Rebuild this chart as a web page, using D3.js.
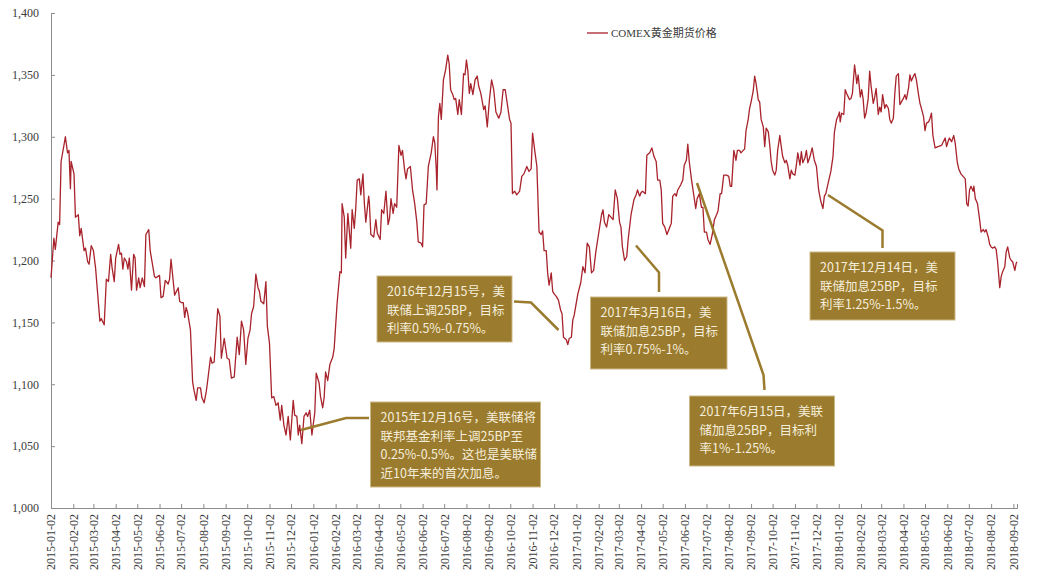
<!DOCTYPE html>
<html>
<head>
<meta charset="utf-8">
<script src="https://cdn.jsdelivr.net/npm/d3@7"></script>
<style>
  html, body { margin: 0; padding: 0; background: #fff; }
  svg { display: block; }
</style>
</head>
<body>
<svg id="chart" width="1038" height="576"></svg>
<script>
// COMEX gold futures price, USD/oz
const tradeDates = [
  "2015-01-02","2015-01-06","2015-01-08","2015-01-12","2015-01-14","2015-01-16","2015-01-20","2015-01-22","2015-01-25","2015-01-27",
  "2015-01-29","2015-01-30","2015-02-03","2015-02-05","2015-02-09","2015-02-11","2015-02-13","2015-02-17","2015-02-19","2015-02-22",
  "2015-02-24","2015-02-27","2015-03-02","2015-03-05","2015-03-11","2015-03-13","2015-03-17","2015-03-20","2015-03-23","2015-03-26",
  "2015-03-28","2015-03-31","2015-04-02","2015-04-06","2015-04-08","2015-04-10","2015-04-12","2015-04-14","2015-04-17","2015-04-19",
  "2015-04-21","2015-04-24","2015-04-27","2015-04-29","2015-05-01","2015-05-04","2015-05-06","2015-05-09","2015-05-12","2015-05-14",
  "2015-05-18","2015-05-20","2015-05-26","2015-05-28","2015-06-02","2015-06-04","2015-06-07","2015-06-10","2015-06-14","2015-06-16",
  "2015-06-18","2015-06-23","2015-06-28","2015-06-30","2015-07-02","2015-07-05","2015-07-07","2015-07-09","2015-07-11","2015-07-15",
  "2015-07-18","2015-07-20","2015-07-23","2015-07-25","2015-07-29","2015-07-31","2015-08-03","2015-08-06","2015-08-08","2015-08-12",
  "2015-08-14","2015-08-17","2015-08-22","2015-08-25","2015-08-27","2015-08-30","2015-08-31","2015-09-04","2015-09-07","2015-09-10",
  "2015-09-14","2015-09-18","2015-09-21","2015-09-24","2015-09-27","2015-09-30","2015-10-03","2015-10-06","2015-10-08","2015-10-11",
  "2015-10-14","2015-10-17","2015-10-19","2015-10-21","2015-10-25","2015-10-28","2015-10-30","2015-11-02","2015-11-05","2015-11-08",
  "2015-11-11","2015-11-14","2015-11-17","2015-11-19","2015-11-22","2015-11-25","2015-11-28","2015-12-01","2015-12-05","2015-12-07",
  "2015-12-10","2015-12-12","2015-12-14","2015-12-17","2015-12-20","2015-12-23","2015-12-25","2015-12-28","2015-12-31",
  "2016-01-04","2016-01-06","2016-01-10","2016-01-12","2016-01-15","2016-01-17","2016-01-19","2016-01-22","2016-01-25","2016-01-29",
  "2016-01-31","2016-02-04","2016-02-08","2016-02-10","2016-02-11","2016-02-14","2016-02-16","2016-02-19","2016-02-23","2016-02-25",
  "2016-02-28","2016-03-01","2016-03-03","2016-03-06","2016-03-08","2016-03-11","2016-03-13","2016-03-15","2016-03-19","2016-03-20",
  "2016-03-22","2016-03-26","2016-03-29","2016-03-31","2016-04-04","2016-04-06","2016-04-09","2016-04-12","2016-04-15","2016-04-17",
  "2016-04-19","2016-04-22","2016-04-24","2016-04-27","2016-04-30","2016-05-03","2016-05-05","2016-05-08","2016-05-10","2016-05-12",
  "2016-05-16","2016-05-19","2016-05-22","2016-05-25","2016-05-27","2016-05-31","2016-06-02","2016-06-04","2016-06-07","2016-06-10",
  "2016-06-14","2016-06-17","2016-06-19","2016-06-21","2016-06-22","2016-06-24","2016-06-26","2016-06-28","2016-07-01","2016-07-04",
  "2016-07-07","2016-07-09","2016-07-11","2016-07-14","2016-07-16","2016-07-18","2016-07-21","2016-07-23","2016-07-26","2016-07-29",
  "2016-07-31","2016-08-02","2016-08-04","2016-08-06","2016-08-08","2016-08-11","2016-08-14","2016-08-17","2016-08-19","2016-08-22",
  "2016-08-26","2016-08-28","2016-08-31","2016-09-03","2016-09-06","2016-09-09","2016-09-12","2016-09-16","2016-09-19","2016-09-22",
  "2016-09-25","2016-09-28","2016-10-01","2016-10-03","2016-10-05","2016-10-08","2016-10-11","2016-10-15","2016-10-18","2016-10-21",
  "2016-10-25","2016-10-28","2016-10-31","2016-11-02","2016-11-05","2016-11-08","2016-11-11","2016-11-14","2016-11-16","2016-11-18",
  "2016-11-21","2016-11-23","2016-11-25","2016-11-28","2016-11-30","2016-12-02","2016-12-05","2016-12-08","2016-12-11","2016-12-13",
  "2016-12-15","2016-12-19","2016-12-21","2016-12-23","2016-12-26","2016-12-28","2016-12-30",
  "2017-01-04","2017-01-08","2017-01-11","2017-01-14","2017-01-17","2017-01-20","2017-01-23","2017-01-26","2017-01-29","2017-02-02",
  "2017-02-06","2017-02-08","2017-02-10","2017-02-13","2017-02-16","2017-02-19","2017-02-22","2017-02-25","2017-02-28","2017-03-03",
  "2017-03-05","2017-03-07","2017-03-10","2017-03-13","2017-03-15","2017-03-19","2017-03-23","2017-03-26","2017-03-28","2017-03-31",
  "2017-04-02","2017-04-04","2017-04-08","2017-04-10","2017-04-14","2017-04-17","2017-04-20","2017-04-23","2017-04-25","2017-04-28",
  "2017-04-30","2017-05-02","2017-05-05","2017-05-08","2017-05-12","2017-05-14","2017-05-16","2017-05-19","2017-05-21","2017-05-23",
  "2017-05-27","2017-05-30","2017-06-01","2017-06-04","2017-06-06","2017-06-08","2017-06-11","2017-06-14","2017-06-17","2017-06-19",
  "2017-06-22","2017-06-25","2017-06-27","2017-06-29","2017-07-02","2017-07-04","2017-07-07","2017-07-10","2017-07-13","2017-07-16",
  "2017-07-18","2017-07-21","2017-07-23","2017-07-26","2017-07-30","2017-08-02","2017-08-04","2017-08-06","2017-08-09","2017-08-12",
  "2017-08-14","2017-08-17","2017-08-19","2017-08-22","2017-08-24","2017-08-26","2017-08-29","2017-08-31","2017-09-02","2017-09-05",
  "2017-09-07","2017-09-09","2017-09-12","2017-09-14","2017-09-16","2017-09-19","2017-09-21","2017-09-23","2017-09-26","2017-09-28",
  "2017-09-30","2017-10-02","2017-10-05","2017-10-07","2017-10-09","2017-10-12","2017-10-14","2017-10-16","2017-10-19","2017-10-21",
  "2017-10-23","2017-10-26","2017-10-28","2017-10-30","2017-11-02","2017-11-04","2017-11-06","2017-11-09","2017-11-11","2017-11-13",
  "2017-11-16","2017-11-18","2017-11-20","2017-11-23","2017-11-26","2017-11-29","2017-12-02","2017-12-05","2017-12-08","2017-12-11",
  "2017-12-13","2017-12-15","2017-12-18","2017-12-22","2017-12-25","2017-12-27","2017-12-30",
  "2018-01-02","2018-01-03","2018-01-04","2018-01-06","2018-01-09","2018-01-11","2018-01-13","2018-01-17","2018-01-19","2018-01-21",
  "2018-01-24","2018-01-26","2018-01-27","2018-01-29","2018-02-01","2018-02-03","2018-02-05","2018-02-07","2018-02-09","2018-02-12",
  "2018-02-14","2018-02-16","2018-02-19","2018-02-21","2018-02-23","2018-02-26","2018-02-28","2018-03-02","2018-03-04","2018-03-07",
  "2018-03-09","2018-03-12","2018-03-14","2018-03-16","2018-03-19","2018-03-21","2018-03-23","2018-03-26","2018-03-28","2018-03-30",
  "2018-04-02","2018-04-04","2018-04-06","2018-04-09","2018-04-11","2018-04-13","2018-04-16","2018-04-18","2018-04-20","2018-04-23",
  "2018-04-25","2018-04-27","2018-04-30","2018-05-02","2018-05-04","2018-05-07","2018-05-09","2018-05-11","2018-05-13","2018-05-16",
  "2018-05-20","2018-05-25","2018-05-30","2018-06-01","2018-06-03","2018-06-05","2018-06-08","2018-06-11","2018-06-13","2018-06-16",
  "2018-06-18","2018-06-21","2018-06-24","2018-06-27","2018-06-28","2018-06-29","2018-07-01","2018-07-03","2018-07-05","2018-07-08",
  "2018-07-09","2018-07-11","2018-07-14","2018-07-17","2018-07-19","2018-07-22","2018-07-24","2018-07-26","2018-07-29","2018-07-31",
  "2018-08-02","2018-08-04","2018-08-07","2018-08-09","2018-08-11","2018-08-14","2018-08-16","2018-08-18","2018-08-21","2018-08-23",
  "2018-08-25","2018-08-28","2018-08-30","2018-09-01","2018-09-04","2018-09-06","2018-09-07"
];

const goldPrice = [
  1186,1218,1209,1231,1229,1280,1293,1300,1287,1289,
  1258,1280,1270,1235,1237,1220,1226,1208,1210,1199,
  1197,1212,1208,1194,1151,1153,1148,1185,1183,1205,
  1194,1183,1202,1213,1205,1206,1193,1202,1199,1193,
  1202,1176,1205,1202,1176,1186,1178,1186,1179,1221,
  1225,1208,1187,1186,1188,1170,1171,1184,1181,1185,
  1201,1172,1178,1167,1166,1166,1154,1162,1158,1144,
  1102,1095,1087,1097,1097,1089,1085,1094,1103,1122,
  1117,1118,1161,1155,1121,1133,1137,1121,1120,1105,
  1106,1138,1124,1151,1144,1116,1137,1144,1157,1163,
  1189,1178,1175,1167,1165,1183,1147,1133,1089,1090,
  1083,1085,1071,1083,1067,1059,1074,1055,1087,1075,
  1074,1059,1067,1052,1074,1077,1074,1079,1059,
  1077,1109,1101,1090,1081,1089,1110,1103,1116,1122,
  1129,1165,1191,1190,1246,1235,1202,1238,1210,1241,
  1226,1242,1265,1266,1253,1270,1246,1231,1252,1246,
  1221,1219,1233,1222,1217,1241,1238,1256,1229,1234,
  1250,1238,1246,1243,1293,1285,1289,1273,1266,1274,
  1276,1257,1246,1231,1215,1214,1211,1245,1246,1276,
  1287,1300,1295,1274,1257,1316,1327,1314,1346,1354,
  1366,1359,1338,1334,1330,1331,1318,1330,1318,1351,
  1350,1362,1353,1335,1343,1334,1346,1349,1341,1335,
  1322,1325,1308,1330,1346,1338,1320,1315,1320,1338,
  1338,1326,1314,1311,1254,1256,1253,1256,1268,1270,
  1276,1272,1274,1303,1289,1276,1223,1221,1224,1208,
  1208,1190,1180,1190,1175,1173,1171,1168,1160,1157,
  1138,1136,1132,1137,1138,1152,1156,
  1173,1182,1195,1190,1214,1211,1190,1192,1207,1222,
  1237,1241,1231,1227,1237,1235,1233,1257,1250,1231,
  1227,1211,1200,1203,1217,1237,1249,1253,1257,1252,
  1255,1256,1254,1285,1287,1291,1284,1280,1265,1265,
  1257,1230,1227,1221,1227,1230,1252,1254,1252,1257,
  1261,1265,1277,1281,1294,1280,1266,1254,1242,1250,
  1254,1243,1243,1223,1223,1217,1213,1221,1233,1237,
  1240,1254,1254,1269,1269,1268,1260,1260,1289,1281,
  1289,1289,1287,1289,1290,1305,1314,1323,1328,1337,
  1349,1343,1330,1328,1314,1308,1292,1307,1304,1293,
  1280,1273,1269,1273,1289,1301,1292,1284,1279,1281,
  1277,1266,1273,1270,1269,1277,1287,1277,1288,1279,
  1283,1289,1279,1284,1291,1281,1276,1257,1248,1242,
  1252,1254,1262,1272,1284,1304,1314,
  1318,1320,1312,1319,1318,1338,1335,1330,1331,1335,
  1358,1349,1343,1350,1332,1338,1330,1315,1319,1331,
  1353,1341,1327,1332,1339,1318,1324,1320,1334,1323,
  1326,1323,1314,1311,1315,1335,1349,1351,1326,1328,
  1331,1334,1330,1339,1350,1345,1349,1351,1346,1334,
  1327,1323,1316,1305,1311,1312,1315,1319,1301,1291,
  1292,1293,1299,1292,1296,1299,1296,1301,1295,1279,
  1274,1270,1268,1266,1257,1246,1244,1257,1260,1256,
  1260,1250,1246,1233,1223,1225,1223,1225,1219,1213,
  1211,1210,1211,1209,1199,1178,1187,1191,1195,1207,
  1211,1202,1200,1199,1192,1198,1199
];

const seriesName = "COMEX黄金期货价格";
const yTicks = [1000, 1050, 1100, 1150, 1200, 1250, 1300, 1350, 1400];
const xTickLabels = [
  "2015-01-02","2015-02-02","2015-03-02","2015-04-02","2015-05-02","2015-06-02","2015-07-02","2015-08-02","2015-09-02","2015-10-02","2015-11-02","2015-12-02",
  "2016-01-02","2016-02-02","2016-03-02","2016-04-02","2016-05-02","2016-06-02","2016-07-02","2016-08-02","2016-09-02","2016-10-02","2016-11-02","2016-12-02",
  "2017-01-02","2017-02-02","2017-03-02","2017-04-02","2017-05-02","2017-06-02","2017-07-02","2017-08-02","2017-09-02","2017-10-02","2017-11-02","2017-12-02",
  "2018-01-02","2018-02-02","2018-03-02","2018-04-02","2018-05-02","2018-06-02","2018-07-02","2018-08-02","2018-09-02"
];
const axisStart = "2015-01-02";
const axisEnd = "2018-09-07";

// Fed rate-hike call-outs: text lines, box and leader polyline (pixel layout)
const noteLines = [
  ["2015年12月16号，美联储将", "联邦基金利率上调25BP至", "0.25%-0.5%。这也是美联储", "近10年来的首次加息。"],
  ["2016年12月15号，美", "联储上调25BP，目标", "利率0.5%-0.75%。"],
  ["2017年3月16日，美", "联储加息25BP，目标", "利率0.75%-1%。"],
  ["2017年6月15日，美联", "储加息25BP，目标利", "率1%-1.25%。"],
  ["2017年12月14日，美", "联储加息25BP，目标", "利率1.25%-1.5%。"]
];
const noteBoxes = [
  [370.5, 402, 170, 85],
  [377, 276, 135, 66],
  [590.5, 297, 136.5, 72],
  [689.5, 396, 145, 70],
  [810, 252, 145, 68]
];
const noteLeaders = [
  [[301, 430], [346, 418], [369, 418]],
  [[514, 301.5], [531, 302.5], [558.5, 330]],
  [[636, 245.5], [659, 272.5], [659, 292]],
  [[697, 183], [763.5, 375], [764.5, 390]],
  [[828, 195], [882.5, 230.5], [882.5, 248]]
];

const parse = d3.timeParse("%Y-%m-%d");
const data = tradeDates.map((d, i) => ({ date: parse(d), value: goldPrice[i] }));

const plot = { left: 51, right: 1017, top: 13, bottom: 508 };
const serif = "'Liberation Serif', 'Times New Roman', serif";
const cjkSans = "'Noto Sans CJK SC', 'Microsoft YaHei', sans-serif";

const svg = d3.select("#chart");

const x = d3.scaleTime()
  .domain([parse(axisStart), parse(axisEnd)])
  .range([plot.left, plot.right]);

const y = d3.scaleLinear()
  .domain([1000, 1400])
  .range([plot.bottom, plot.top]);

const axisColor = "#8c8c8c";
const labelColor = "#3a3a3a";

// Y axis: ticks point into the plot
const yAxis = svg.append("g")
  .attr("transform", `translate(${plot.left},0)`)
  .call(d3.axisLeft(y).tickValues(yTicks).tickSize(-4).tickPadding(12)
    .tickFormat(d3.format(",")));
yAxis.select(".domain").attr("stroke", axisColor);
yAxis.selectAll(".tick line").attr("stroke", axisColor);
yAxis.selectAll(".tick text")
  .attr("fill", labelColor)
  .style("font-family", serif)
  .style("font-size", "12px");

// X axis: monthly ticks, rotated labels
const xAxis = svg.append("g")
  .attr("transform", `translate(0,${plot.bottom})`)
  .call(d3.axisBottom(x).tickValues(xTickLabels.map(parse)).tickSize(-4)
    .tickFormat(d3.timeFormat("%Y-%m-%d")));
xAxis.select(".domain").attr("stroke", axisColor);
xAxis.selectAll(".tick line").attr("stroke", axisColor);
xAxis.selectAll(".tick text")
  .attr("fill", labelColor)
  .style("font-family", serif)
  .style("font-size", "12px")
  .attr("text-anchor", "end")
  .attr("dy", "0.32em")
  .attr("transform", "translate(0,6) rotate(-90)")
  .attr("x", 0)
  .attr("y", 0);

// Price line
const line = d3.line()
  .x(d => x(d.date))
  .y(d => y(d.value));

svg.append("path")
  .datum(data)
  .attr("fill", "none")
  .attr("stroke", "#a8232b")
  .attr("stroke-width", 1.3)
  .attr("stroke-linejoin", "round")
  .attr("d", line);

// Legend
const legend = svg.append("g").attr("transform", "translate(587,33)");
legend.append("line")
  .attr("x1", 0).attr("x2", 21).attr("y1", 0).attr("y2", 0)
  .attr("stroke", "#a8232b").attr("stroke-width", 1.3);
legend.append("text")
  .attr("x", 24).attr("y", 0).attr("dy", "0.35em")
  .attr("fill", labelColor)
  .style("font-family", serif + ", " + cjkSans)
  .style("font-size", "11px")
  .text(seriesName);

// Call-outs
const noteColor = "#9b7b2e";
const notes = svg.append("g");
noteLeaders.forEach(pts => {
  notes.append("path")
    .attr("d", d3.line()(pts))
    .attr("fill", "none")
    .attr("stroke", noteColor)
    .attr("stroke-width", 2.5);
});
noteBoxes.forEach((b, i) => {
  const g = notes.append("g");
  g.append("rect")
    .attr("x", b[0]).attr("y", b[1]).attr("width", b[2]).attr("height", b[3])
    .attr("fill", noteColor)
    .attr("stroke", "#cdb987")
    .attr("stroke-width", 1);
  noteLines[i].forEach((t, j) => {
    g.append("text")
      .attr("x", b[0] + 10)
      .attr("y", b[1] + 15.5 + j * 18.6)
      .attr("dy", "0.36em")
      .attr("fill", "#f5eedb")
      .style("font-family", cjkSans)
      .style("font-size", "12.5px")
      .text(t);
  });
});
</script>
</body>
</html>
